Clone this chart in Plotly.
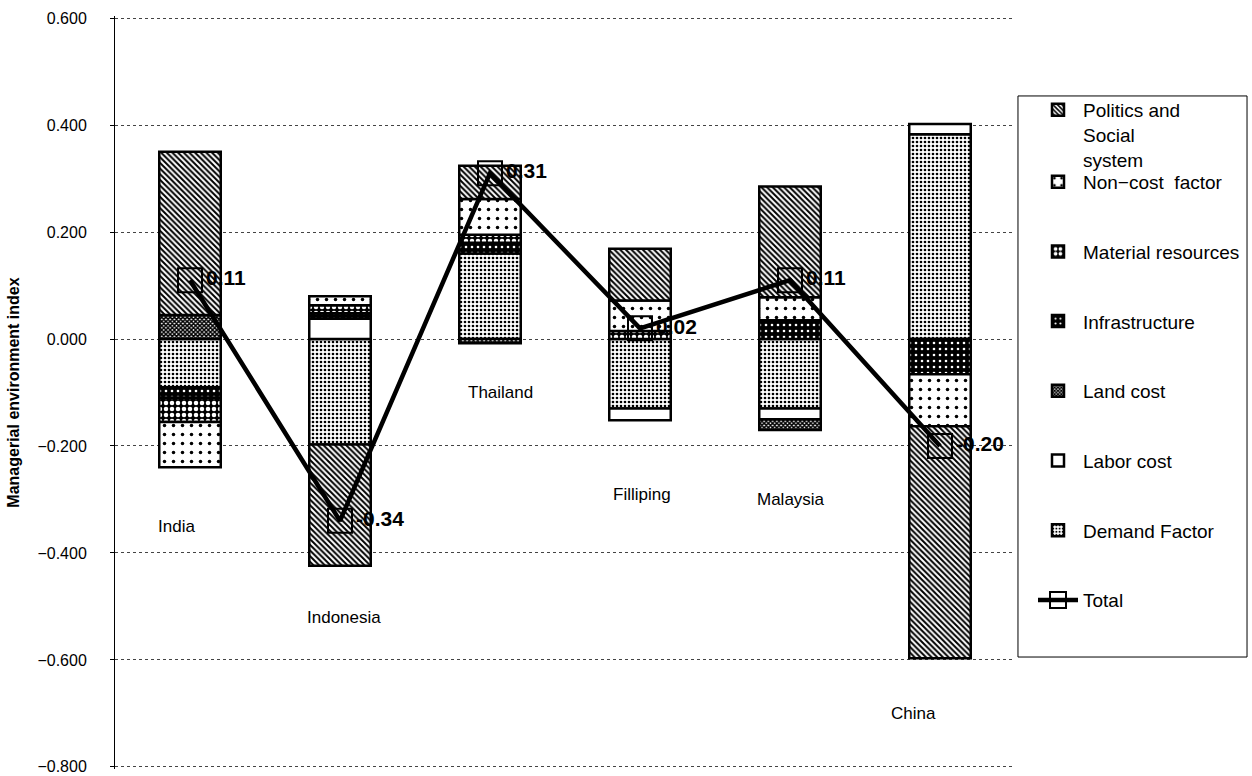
import plotly.graph_objects as go

# Countries and factor contributions to the managerial environment index
countries = ["India", "Indonesia", "Thailand", "Filliping", "Malaysia", "China"]

demand_factor = [-0.090, -0.197, 0.160, -0.130, -0.130, 0.383]
labor_cost = [None, 0.038, None, -0.022, -0.020, 0.019]
land_cost = [0.045, None, -0.008, None, -0.020, None]
infrastructure = [-0.020, 0.010, 0.020, None, 0.035, -0.066]
material_resources = [-0.045, 0.015, 0.015, 0.015, None, None]
non_cost_factor = [-0.085, 0.017, 0.067, 0.057, 0.043, -0.097]
politics_social = [0.305, -0.227, 0.062, 0.097, 0.207, -0.434]
total = [0.11, -0.34, 0.31, 0.02, 0.11, -0.20]

y_ticks = [0.6, 0.4, 0.2, 0.0, -0.2, -0.4, -0.6, -0.8]

# Country caption placement (value axis position, horizontal pixel shift)
caption_y = [-0.35, -0.52, -0.10, -0.29, -0.30, -0.70]
caption_shift = [-14, 4, 10, 2, 1, -27]

FONT = "Liberation Sans, Arial, sans-serif"

series = [
    ("Demand Factor", demand_factor, dict(shape=".", fgcolor="black", bgcolor="white", size=4, solidity=0.35)),
    ("Labor cost", labor_cost, dict(shape="", bgcolor="white")),
    ("Land cost", land_cost, dict(shape="x", fgcolor="black", bgcolor="white", size=3, solidity=0.75)),
    ("Infrastructure", infrastructure, dict(shape=".", fgcolor="white", bgcolor="black", size=6, solidity=0.15)),
    ("Material resources", material_resources, dict(shape=".", fgcolor="white", bgcolor="black", size=6, solidity=0.45)),
    ("Non−cost  factor", non_cost_factor, dict(shape=".", fgcolor="black", bgcolor="white", size=9, solidity=0.12)),
    ("Politics and<br>Social<br>system", politics_social, dict(shape="\\", fgcolor="black", bgcolor="white", size=4, solidity=0.5)),
]

fig = go.Figure()
n = len(series)
for i, (name, vals, pat) in enumerate(series):
    pattern = dict(pat)
    pattern["fillmode"] = "replace"
    fig.add_trace(go.Bar(
        x=countries, y=vals, name=name,
        marker=dict(color="white", pattern=pattern, line=dict(color="black", width=2.5)),
        legendrank=n - i,
        legendgroup=name,
        legend="legend2" if name.startswith("Politics") else "legend",
        hoverinfo="skip",
    ))

fig.add_trace(go.Scatter(
    x=countries, y=total, name="Total", legendrank=n + 1, legendgroup="Total",
    mode="lines+markers+text",
    line=dict(color="black", width=4.5),
    marker=dict(symbol="square-open", size=24, color="black", line=dict(width=2)),
    text=[f"{v:.2f}" for v in total],
    textposition="middle right",
    textfont=dict(family=FONT, size=21, color="black", weight="bold"),
    cliponaxis=False,
))

for c, yv, dx in zip(countries, caption_y, caption_shift):
    fig.add_annotation(x=c, y=yv, text=c, showarrow=False, xshift=dx,
                       font=dict(family=FONT, size=17, color="black"))

# Frame around the legend entries
fig.add_shape(type="rect", xref="paper", yref="paper",
              x0=1.0033, x1=1.2578, y0=0.1487, y1=0.8938,
              line=dict(color="black", width=1), fillcolor="rgba(0,0,0,0)")

fig.update_layout(
    width=1252, height=776,
    margin=dict(l=115, r=237, t=16, b=7, autoexpand=False),
    plot_bgcolor="white", paper_bgcolor="white",
    barmode="relative", bargap=0.59,
    font=dict(family=FONT, color="black"),
    legend=dict(x=1.020, y=0.805, xanchor="left", yanchor="top",
                traceorder="grouped", tracegroupgap=42, itemwidth=40,
                font=dict(family=FONT, size=19, color="black"),
                bgcolor="rgba(0,0,0,0)", borderwidth=0),
    legend2=dict(x=1.020, y=0.9005, xanchor="left", yanchor="top", valign="top",
                 itemwidth=40,
                 font=dict(family=FONT, size=19, color="black"),
                 bgcolor="rgba(0,0,0,0)", borderwidth=0),
    xaxis=dict(range=[-0.5, 5.5], showticklabels=False, showgrid=False,
               showline=False, zeroline=False, ticks="", automargin=False),
    yaxis=dict(range=[-0.804, 0.604], tickvals=y_ticks, tickformat=".3f",
               automargin=False,
               showgrid=True, gridcolor="#444", griddash="dot", gridwidth=1,
               zeroline=False, showline=True, linecolor="black", linewidth=1,
               ticks="outside", ticklen=4, tickcolor="black",
               ticklabelstandoff=20, ticklabeloverflow="allow",
               tickfont=dict(family=FONT, size=16, color="black"),
               title=dict(text="Managerial environment index", standoff=13,
                          font=dict(family=FONT, size=16, color="black", weight="bold"))),
)

fig.write_html("out.html")
